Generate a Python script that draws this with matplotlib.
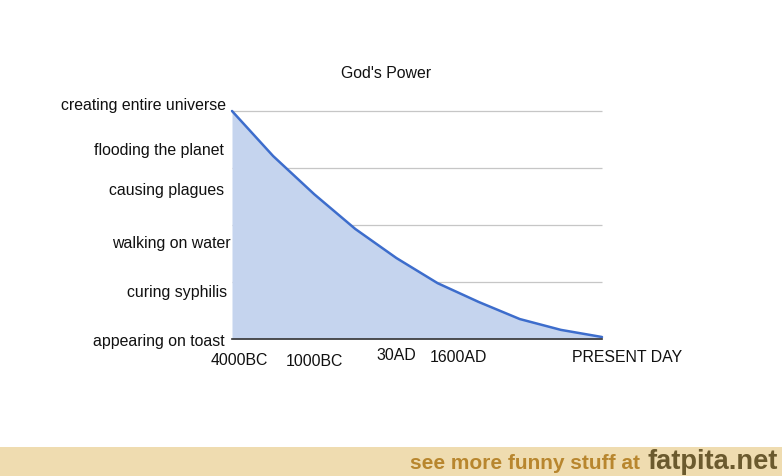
import matplotlib
matplotlib.use("Agg")
import matplotlib.pyplot as plt
from matplotlib.patches import Rectangle
from matplotlib.transforms import blended_transform_factory

plt.rcParams['font.family'] = ['Liberation Sans', 'DejaVu Sans']

# Power curve over time (10 evenly spaced samples)
power = [4.0, 3.21, 2.54, 1.93, 1.42, 0.98, 0.65, 0.35, 0.16, 0.035]

# Era labels along the bottom and their positions on the sample scale
era_labels = ["4000BC", "1000BC", "30AD", "1600AD", "PRESENT DAY"]
era_pos = [0.17, 2.0, 4.0, 5.5, 9.6]
era_drop = [21, 22, 16, 18, 18]  # pixels below axis

# Deeds listed along the side and their heights on the power scale
deed_labels = ["creating entire universe", "flooding the planet", "causing plagues",
               "walking on water", "curing syphilis", "appearing on toast"]
deed_pos = [4.12, 3.33, 2.63, 1.70, 0.84, -0.035]
deed_right = [226, 224, 224, 231, 227, 225]  # right edge in pixels

grid_levels = [1, 2, 3, 4]

W, H = 782, 477
fig = plt.figure(figsize=(W / 100, H / 100), dpi=100)
ax = fig.add_axes([232 / W, 1 - 340 / H, (602 - 232) / W, (340 - 112) / H])

x = list(range(len(power)))
ax.fill_between(x, power, 0, color='#c5d4ee', zorder=1, linewidth=0)
ax.hlines(grid_levels, 0, len(power) - 1, colors='#c6c6c6', linewidth=0.9,
          zorder=0, clip_on=False)
ax.plot(x, power, color='#3d6dcc', linewidth=1.8, zorder=3, solid_capstyle='round',
        clip_on=False)
ax.axhline(0, color='#333333', linewidth=1.2, zorder=4, clip_on=False)

ax.set_xlim(0, len(power) - 1)
ax.set_ylim(0, 4)
ax.set_xticks([])
ax.set_yticks([])
for s in ax.spines.values():
    s.set_visible(False)

fs = 11.4

# side labels
for lab, yv, xr in zip(deed_labels, deed_pos, deed_right):
    tr = blended_transform_factory(fig.transFigure, ax.transData)
    ax.text(xr / W, yv, lab, transform=tr, ha='right', va='center',
            fontsize=fs, color='#111111', clip_on=False)

# era labels
for lab, xv, dy in zip(era_labels, era_pos, era_drop):
    tr = blended_transform_factory(ax.transData, fig.transFigure)
    ax.text(xv, 1 - (340 + dy) / H, lab, transform=tr, ha='center', va='center',
            fontsize=fs, color='#111111', clip_on=False)

fig.text(386 / W, 1 - 73 / H, "God's Power", ha='center', va='center',
         fontsize=fs, color='#111111')

# footer banner
fig.patches.append(Rectangle((0, 0), 1, 29.5 / H, transform=fig.transFigure,
                             facecolor='#efdcb0', edgecolor='none', zorder=0))
fig.text(640 / W, 1 - 464 / H, "see more funny stuff at", ha='right', va='center',
         fontsize=15, fontweight='bold', color='#b8862e')
fig.text(647 / W, 1 - 462 / H, "fatpita.net", ha='left', va='center',
         fontsize=19.6, fontweight='bold', color='#6b5a2e')

fig.savefig("out.png", dpi=100, facecolor='white')
